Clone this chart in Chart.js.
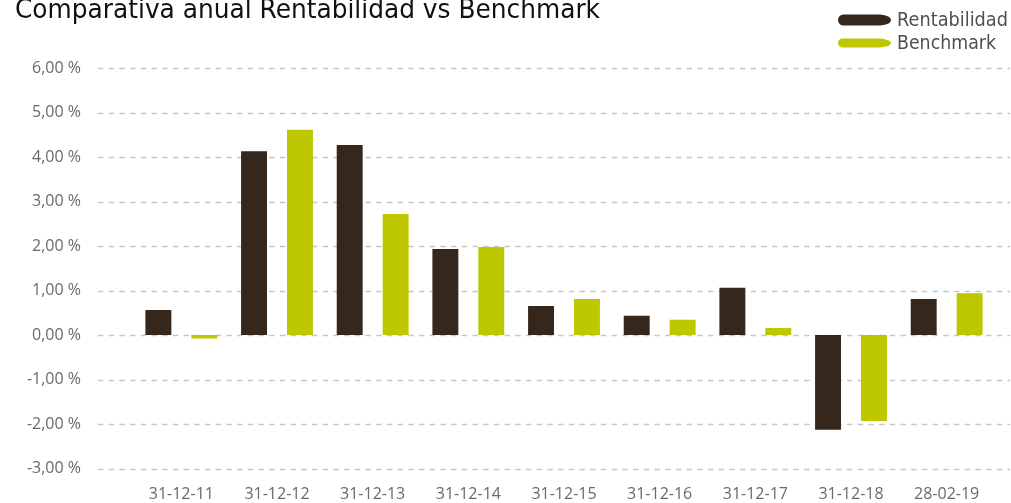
<!DOCTYPE html>
<html>
<head>
<meta charset="utf-8">
<script src="https://cdn.jsdelivr.net/npm/chart.js@4"></script>
<style>
html,body{margin:0;padding:0;background:#fff;}
#wrap{width:1011px;height:503px;position:relative;}
</style>
</head>
<body>
<div id="wrap"><canvas id="c" width="1011" height="503"></canvas></div>
<script>
const titleText = "Comparativa anual Rentabilidad vs Benchmark";
const categories = ["31-12-11","31-12-12","31-12-13","31-12-14","31-12-15","31-12-16","31-12-17","31-12-18","28-02-19"];
const rentabilidad = [0.56, 4.13, 4.27, 1.93, 0.65, 0.43, 1.06, -2.13, 0.81];
const benchmark = [-0.08, 4.61, 2.72, 1.98, 0.81, 0.34, 0.16, -1.93, 0.94];
const seriesNames = ["Rentabilidad", "Benchmark"];
const seriesColors = ["#35271b", "#bdc800"];

function fitText(ctx, text, x, y, targetW, font) {
  ctx.save();
  ctx.font = font;
  const w = ctx.measureText(text).width;
  ctx.translate(x, y);
  ctx.scale(targetW / w, 1);
  ctx.fillText(text, 0, 0);
  ctx.restore();
}

const decorPlugin = {
  id: 'decor',
  beforeDatasetsDraw(chart) {
    const ctx = chart.ctx;
    const ys = chart.scales.y;
    ctx.save();
    ctx.strokeStyle = '#c6c6c6';
    ctx.lineWidth = 1.3;
    ctx.setLineDash([5.4, 5.3]);
    ys.ticks.forEach(t => {
      const py = Math.round(ys.getPixelForValue(t.value)) + 0.5;
      ctx.beginPath();
      ctx.moveTo(98, py);
      ctx.lineTo(1010, py);
      ctx.stroke();
    });
    ctx.restore();
  },
  afterDraw(chart) {
    const ctx = chart.ctx;
    ctx.save();
    // title
    ctx.fillStyle = '#111111';
    ctx.textBaseline = 'alphabetic';
    fitText(ctx, titleText, 15, 18, 585, '27px "DejaVu Sans"');
    // legend
    const rows = [{y: 20, h: 11, tw: 111}, {y: 43, h: 9, tw: 99}];
    chart.data.datasets.forEach((ds, i) => {
      const r = rows[i];
      ctx.fillStyle = ds.backgroundColor;
      const x0 = 838, x1 = 880, x2 = 891;
      ctx.beginPath();
      ctx.moveTo(x0 + r.h / 2, r.y - r.h / 2);
      ctx.lineTo(x1, r.y - r.h / 2);
      ctx.quadraticCurveTo(x2, r.y - r.h / 2 + 1, x2, r.y);
      ctx.quadraticCurveTo(x2, r.y + r.h / 2 - 1, x1, r.y + r.h / 2);
      ctx.lineTo(x0 + r.h / 2, r.y + r.h / 2);
      ctx.arc(x0 + r.h / 2, r.y, r.h / 2, Math.PI / 2, Math.PI * 1.5);
      ctx.closePath();
      ctx.fill();
      ctx.fillStyle = '#4f4f4f';
      ctx.textBaseline = 'middle';
      fitText(ctx, ds.label, 897, r.y + 1.5, r.tw, '19px "DejaVu Sans"');
    });
    ctx.restore();
  }
};

new Chart(document.getElementById('c'), {
  type: 'bar',
  data: {
    labels: categories,
    datasets: [
      {label: seriesNames[0], data: rentabilidad, backgroundColor: seriesColors[0], categoryPercentage: 0.96, barPercentage: 0.565},
      {label: seriesNames[1], data: benchmark, backgroundColor: seriesColors[1], categoryPercentage: 0.96, barPercentage: 0.565}
    ]
  },
  options: {
    responsive: false,
    animation: false,
    layout: {padding: {top: 68, right: 16.5, left: 0, bottom: 0}},
    plugins: {legend: {display: false}, title: {display: false}, tooltip: {enabled: false}},
    scales: {
      x: {
        grid: {display: false, drawTicks: false},
        border: {display: false},
        ticks: {padding: 16, color: '#6a6a6a', font: {family: '"Open Sans"', size: 16}, maxRotation: 0, autoSkip: false},
        afterFit(s) { s.height = 34.5; }
      },
      y: {
        min: -3, max: 6,
        grid: {display: false, drawTicks: true, tickLength: 52.5},
        border: {display: false},
        ticks: {
          stepSize: 1, padding: 0, color: '#6a6a6a', font: {family: '"Open Sans"', size: 16},
          callback: v => v.toFixed(2).replace('.', ',') + ' %'
        },
        afterFit(s) { s.width = 133.5; }
      }
    }
  },
  plugins: [decorPlugin]
});
</script>
</body>
</html>
